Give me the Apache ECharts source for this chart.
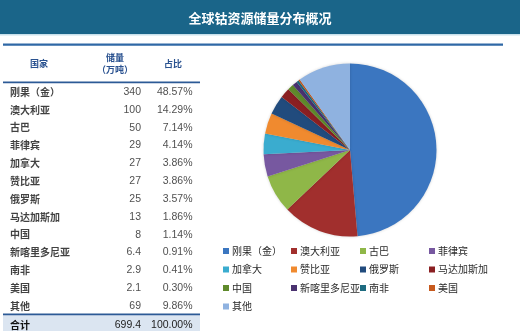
<!DOCTYPE html>
<html><head><meta charset="utf-8">
<script src="https://cdn.jsdelivr.net/npm/echarts@6/dist/echarts.min.js"></script>
<style>html,body{margin:0;padding:0;background:#fff}#c{width:520px;height:331px}</style>
</head><body><div id="c"></div>
<script>
const countries = ['刚果（金）','澳大利亚','古巴','菲律宾','加拿大','赞比亚','俄罗斯','马达加斯加','中国','新喀里多尼亚','南非','美国','其他'];
const reserves = [340,100,50,29,27,27,25,13,8,6.4,2.9,2.1,69];
const shares = ['48.57%','14.29%','7.14%','4.14%','3.86%','3.86%','3.57%','1.86%','1.14%','0.91%','0.41%','0.30%','9.86%'];
const totalLabel = '合计';
const totalShare = '100.00%';
const headers = ['国家','储量\n（万吨）','占比'];
const titleText = '全球钴资源储量分布概况';
const colors = ['#3b76c0','#a12f2d','#8fb748','#7758a0','#3aaccf','#f08a2f','#214b7d','#8a1f22','#5f8a2b','#4a3270','#1d6b80','#c75a1e','#8fb2e0'];

const chart = echarts.init(document.getElementById('c'), null, {renderer:'canvas'});
const total = reserves.reduce((a,b)=>a+b,0);
const cjk = '"Noto Sans CJK SC", "Noto Sans", sans-serif';
const num = '"Liberation Sans", Arial, sans-serif';

const legends = [0,1,2,3].map(j => ({
  orient:'vertical', left: [218,286,355,424][j], top: 240,
  data: countries.filter((_,i)=>i%4===j),
  icon:'rect', itemWidth:6, itemHeight:6, itemGap:6.5, selectedMode:false,
  textStyle:{fontFamily:cjk, fontSize:10, color:'#2a2a2a', lineHeight:12, padding:[0,0,0,-2]}
}));

const nameLabel = {show:true, position:'right', distance:0, fontFamily:cjk, fontWeight:'bold', fontSize:10, color:'#111'};
const numLabel = {show:true, position:'left', distance:0, fontFamily:num, fontSize:10.5, color:'#222'};

chart.setOption({
  animation:false,
  legend: legends,
  grid:{left:0, width:200, top:83, height:232},
  xAxis:{type:'value', min:0, max:200, show:false},
  yAxis:{type:'category', data:countries, inverse:true, show:false},
  graphic:[
    {type:'rect', shape:{x:0,y:0,width:520,height:34}, style:{fill:'#1a6589'}},
    {type:'rect', shape:{x:0,y:34,width:520,height:1.5}, style:{fill:'#c9e1ec'}},
    {type:'text', x:260, y:18, style:{text:titleText, fill:'#fff', font:'bold 13px '+cjk, align:'center', verticalAlign:'middle'}},
    {type:'rect', shape:{x:3,y:43.5,width:500,height:2.2}, style:{fill:'#2f68a6'}},
    {type:'rect', shape:{x:3,y:81.5,width:197,height:1.8}, style:{fill:'#2c5a96'}},
    {type:'rect', shape:{x:3,y:315,width:197,height:16}, style:{fill:'#dbe5f1'}},
    {type:'rect', shape:{x:3,y:313.5,width:197,height:1.8}, style:{fill:'#2c5a96'}},
    {type:'text', x:39, y:64, style:{text:headers[0], fill:'#2a5290', font:'bold 9px '+cjk, align:'center', verticalAlign:'middle'}},
    {type:'text', x:115, y:63.5, style:{text:headers[1], fill:'#2a5290', font:'bold 9px '+cjk, align:'center', verticalAlign:'middle', lineHeight:12}},
    {type:'text', x:173, y:64, style:{text:headers[2], fill:'#2a5290', font:'bold 9px '+cjk, align:'center', verticalAlign:'middle'}},
    {type:'text', x:10, y:325, style:{text:totalLabel, fill:'#111', font:'bold 10px '+cjk, align:'left', verticalAlign:'middle'}},
    {type:'text', x:141, y:325, style:{text:total.toFixed(1), fill:'#222', font:'10.5px '+num, align:'right', verticalAlign:'middle'}},
    {type:'text', x:192.5, y:325, style:{text:totalShare, fill:'#222', font:'10.5px '+num, align:'right', verticalAlign:'middle'}}
  ],
  series:[
    {type:'scatter', symbolSize:0, silent:true, data:countries.map((c,i)=>[10,i]),
     label:Object.assign({formatter:p=>countries[p.dataIndex]}, nameLabel)},
    {type:'scatter', symbolSize:0, silent:true, data:reserves.map((v,i)=>[141,i]),
     label:Object.assign({formatter:p=>String(reserves[p.dataIndex])}, numLabel)},
    {type:'scatter', symbolSize:0, silent:true, data:shares.map((v,i)=>[192.5,i]),
     label:Object.assign({formatter:p=>shares[p.dataIndex]}, numLabel)},
    {type:'pie', center:[350,150], radius:86.5, startAngle:90, clockwise:true, silent:true,
     label:{show:false}, labelLine:{show:false},
     itemStyle:{borderWidth:0, shadowBlur:3, shadowColor:'rgba(0,0,0,0.18)'},
     data:countries.map((c,i)=>({name:c, value:reserves[i], itemStyle:{color:colors[i]}}))}
  ]
});
</script></body></html>
